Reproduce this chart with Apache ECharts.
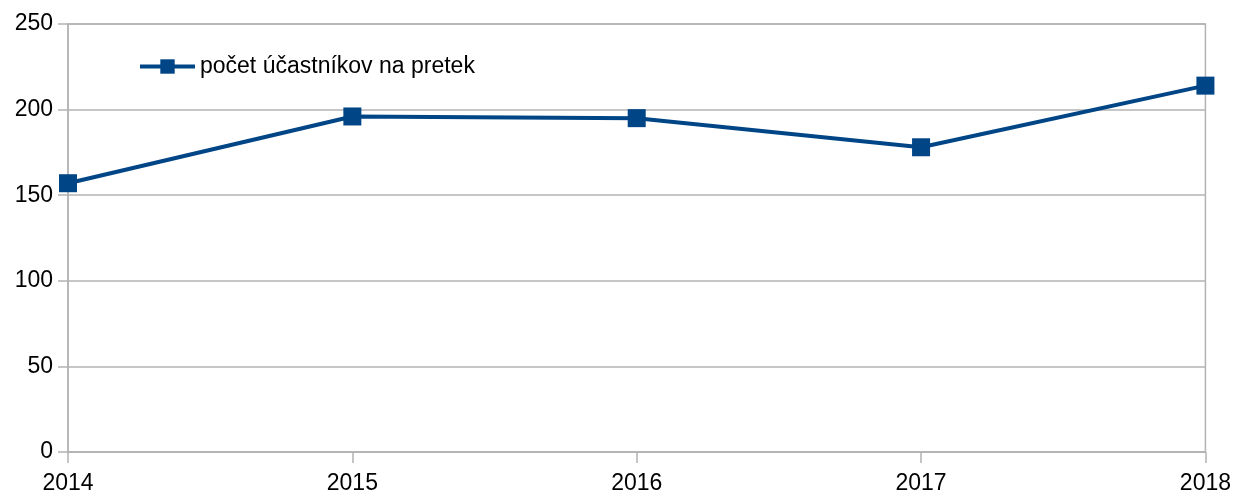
<!DOCTYPE html>
<html><head><meta charset="utf-8">
<script src="https://cdn.jsdelivr.net/npm/echarts@6/dist/echarts.min.js"></script>
<style>html,body{margin:0;padding:0;background:#fff}#c{width:1234px;height:497px}</style>
</head><body><div id="c"></div>
<script>
const years = ['2014','2015','2016','2017','2018'];
const participants = [157, 196, 195, 178, 214];
const seriesName = 'počet účastníkov na pretek';
const yTicks = [0, 50, 100, 150, 200, 250];

const chart = echarts.init(document.getElementById('c'), null, {renderer:'canvas'});
const font = 'Liberation Sans, Arial, sans-serif';
chart.setOption({
  animation:false,
  grid:{left:68, right:26, top:24, bottom:45, show:true, borderColor:'#b3b3b3', borderWidth:1.5},
  legend:{show:true, left:133, top:50, itemWidth:55, itemHeight:18, itemGap:6,
    lineStyle:{width:4},
    textStyle:{fontFamily:font, fontSize:23, color:'#000'},
    data:[{name:seriesName}]},
  xAxis:{type:'category', data:years, boundaryGap:false,
    axisLine:{lineStyle:{color:'#b3b3b3', width:1.5}},
    axisTick:{show:true, length:11, alignWithLabel:true, lineStyle:{color:'#b3b3b3', width:1.5}},
    axisLabel:{fontFamily:font, fontSize:23, color:'#000', margin:20},
    splitLine:{show:false}},
  yAxis:{type:'value', min:yTicks[0], max:yTicks[yTicks.length-1], interval:50,
    axisLine:{show:true, lineStyle:{color:'#b3b3b3', width:1.5}},
    axisTick:{show:true, length:10, lineStyle:{color:'#b3b3b3', width:1.5}},
    axisLabel:{fontFamily:font, fontSize:23, color:'#000', margin:15},
    splitLine:{show:true, lineStyle:{color:'#b3b3b3', width:1.5}}},
  series:[{name:seriesName, type:'line', data:participants,
    symbol:'rect', symbolSize:18, color:'#004586',
    lineStyle:{color:'#004586', width:4},
    itemStyle:{color:'#004586'}}]
});
</script></body></html>
